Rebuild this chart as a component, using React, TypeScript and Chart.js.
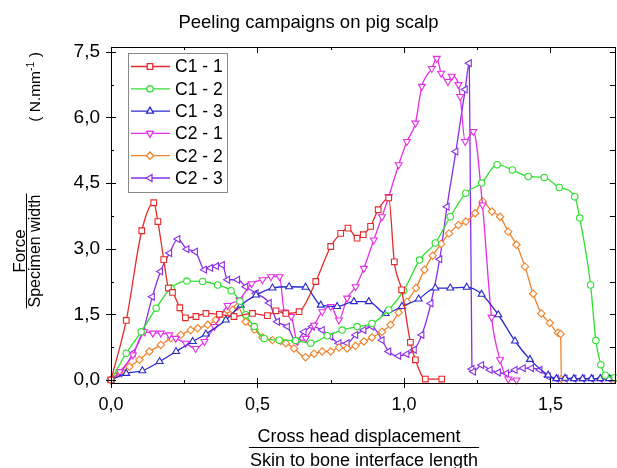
import React, { useEffect, useRef } from 'react';
import { Chart, registerables } from 'chart.js';

Chart.register(...registerables);

// ---------- text ----------
const TITLE = 'Peeling campaigns on pig scalp';
const X_TITLE_TOP = 'Cross head displacement';
const X_TITLE_BOTTOM = 'Skin to bone interface length';
const Y_TITLE_TOP = 'Force';
const Y_TITLE_BOTTOM = 'Specimen width';
const Y_UNIT_MAIN = '( N.mm';
const Y_UNIT_SUP = '-1';
const Y_UNIT_END = ' )';

// ---------- ticks ----------
const X_TICKS = [0, 0.5, 1.0, 1.5];
const X_MINOR = [0.25, 0.75, 1.25];
const Y_TICKS = [0, 1.5, 3.0, 4.5, 6.0, 7.5];
const Y_MINOR = [0.75, 2.25, 3.75, 5.25, 6.75];

// ---------- series ----------
const LABELS = ['C1 - 1', 'C1 - 2', 'C1 - 3', 'C2 - 1', 'C2 - 2', 'C2 - 3'];

const C1_1_X = [0, 0.052, 0.105, 0.146, 0.16, 0.18, 0.196, 0.21, 0.235, 0.254, 0.29, 0.324, 0.37, 0.42, 0.483, 0.534, 0.563, 0.597, 0.642, 0.699, 0.75, 0.784, 0.809, 0.84, 0.861, 0.886, 0.912, 0.948, 0.967, 0.992, 1.022, 1.039, 1.073, 1.129];
const C1_1_Y = [0, 1.36, 3.41, 4.05, 3.62, 2.75, 2.1, 2.0, 1.65, 1.42, 1.45, 1.52, 1.5, 1.45, 1.52, 1.47, 1.58, 1.52, 1.56, 2.25, 3.05, 3.35, 3.47, 3.24, 3.32, 3.51, 3.89, 4.16, 2.7, 2.06, 0.86, 0.46, 0.02, 0.02];

const C1_2_X = [0, 0.052, 0.103, 0.154, 0.205, 0.259, 0.313, 0.364, 0.41, 0.44, 0.46, 0.489, 0.523, 0.574, 0.63, 0.682, 0.738, 0.789, 0.84, 0.891, 0.948, 0.999, 1.053, 1.107, 1.158, 1.211, 1.265, 1.318, 1.37, 1.424, 1.479, 1.53, 1.583, 1.6, 1.637, 1.655, 1.672, 1.687, 1.72];
const C1_2_Y = [0, 0.61, 1.1, 1.64, 2.1, 2.26, 2.25, 2.17, 2.04, 1.8, 1.49, 1.22, 0.95, 0.91, 0.9, 0.84, 1.01, 1.14, 1.22, 1.29, 1.6, 2.04, 2.74, 3.13, 3.73, 4.27, 4.5, 4.92, 4.8, 4.65, 4.63, 4.4, 4.19, 3.7, 2.17, 0.9, 0.35, 0.11, 0.05];

const C1_3_X = [0, 0.052, 0.107, 0.166, 0.222, 0.279, 0.324, 0.392, 0.443, 0.495, 0.551, 0.608, 0.664, 0.716, 0.772, 0.829, 0.88, 0.937, 0.993, 1.05, 1.107, 1.158, 1.214, 1.265, 1.322, 1.379, 1.43, 1.492, 1.52, 1.55, 1.58, 1.61, 1.64, 1.67, 1.7];
const C1_3_Y = [0, 0.15, 0.21, 0.42, 0.65, 0.88, 1.05, 1.37, 1.71, 1.94, 2.1, 2.13, 2.12, 1.71, 1.68, 1.79, 1.79, 1.52, 1.68, 1.85, 2.1, 2.1, 2.12, 1.96, 1.49, 0.89, 0.47, 0.11, 0.03, 0.04, 0.03, 0.03, 0.03, 0.03, 0.03];

const C2_1_X = [0, 0.03, 0.075, 0.113, 0.143, 0.17, 0.199, 0.221, 0.255, 0.289, 0.319, 0.353, 0.398, 0.438, 0.48, 0.517, 0.546, 0.575, 0.592, 0.615, 0.636, 0.665, 0.693, 0.721, 0.75, 0.778, 0.806, 0.835, 0.863, 0.897, 0.925, 0.948, 0.982, 1.01, 1.039, 1.061, 1.095, 1.112, 1.127, 1.15, 1.163, 1.186, 1.192, 1.209, 1.237, 1.268, 1.299, 1.328, 1.356, 1.384];
const C2_1_Y = [0, 0.19, 0.57, 1.1, 1.07, 1.07, 1.03, 0.95, 0.84, 0.72, 0.88, 1.22, 1.7, 1.83, 2.2, 2.29, 2.36, 2.36, 1.55, 1.45, 0.88, 0.95, 1.25, 1.56, 1.68, 1.37, 1.87, 2.13, 2.55, 3.2, 3.73, 4.19, 4.92, 5.45, 5.87, 6.71, 7.12, 7.35, 7.01, 6.82, 6.94, 6.75, 6.48, 5.45, 5.68, 4.0, 1.43, 0.46, 0.02, 0.0];

const C2_2_X = [0, 0.03, 0.063, 0.097, 0.131, 0.17, 0.204, 0.238, 0.272, 0.296, 0.33, 0.358, 0.387, 0.415, 0.432, 0.46, 0.49, 0.517, 0.551, 0.58, 0.597, 0.625, 0.664, 0.693, 0.721, 0.75, 0.778, 0.806, 0.835, 0.863, 0.891, 0.925, 0.954, 0.982, 1.01, 1.041, 1.07, 1.098, 1.127, 1.154, 1.186, 1.211, 1.243, 1.269, 1.3, 1.328, 1.356, 1.384, 1.413, 1.441, 1.469, 1.498, 1.526, 1.535, 1.537, 1.72];
const C2_2_Y = [0, 0.15, 0.3, 0.46, 0.65, 0.8, 0.95, 1.03, 1.14, 1.18, 1.26, 1.37, 1.49, 1.6, 1.68, 1.33, 1.15, 0.97, 0.91, 0.89, 0.84, 0.72, 0.52, 0.6, 0.65, 0.65, 0.74, 0.72, 0.78, 0.88, 0.97, 1.1, 1.26, 1.54, 1.79, 2.1, 2.52, 2.84, 3.11, 3.35, 3.54, 3.62, 3.81, 4.08, 3.85, 3.73, 3.39, 3.09, 2.59, 1.97, 1.52, 1.3, 1.08, 1.05, 0.02, 0.02];

const C2_3_X = [0, 0.03, 0.075, 0.109, 0.141, 0.169, 0.2, 0.228, 0.259, 0.288, 0.319, 0.34, 0.36, 0.38, 0.398, 0.432, 0.46, 0.495, 0.54, 0.568, 0.602, 0.631, 0.659, 0.687, 0.721, 0.75, 0.778, 0.806, 0.835, 0.863, 0.891, 0.925, 0.948, 0.982, 1.01, 1.035, 1.061, 1.092, 1.122, 1.147, 1.177, 1.209, 1.223, 1.232, 1.237, 1.265, 1.294, 1.322, 1.35, 1.379, 1.407, 1.435, 1.464, 1.492, 1.52, 1.55, 1.58, 1.61, 1.64, 1.67, 1.7];
const C2_3_Y = [0, 0.15, 0.61, 1.1, 1.9, 2.48, 2.9, 3.22, 2.99, 2.93, 2.52, 2.56, 2.6, 2.63, 2.29, 2.29, 2.13, 1.98, 1.76, 1.33, 1.22, 0.88, 1.1, 1.22, 1.14, 0.99, 0.84, 0.84, 1.03, 1.14, 1.22, 0.91, 0.65, 0.55, 0.59, 0.69, 1.03, 1.75, 2.76, 3.96, 5.22, 6.64, 7.24, 0.25, 0.19, 0.34, 0.23, 0.17, 0.15, 0.23, 0.27, 0.27, 0.23, 0.08, 0.03, 0.03, 0.03, 0.03, 0.03, 0.03, 0.03];

const SERIES_X = [C1_1_X, C1_2_X, C1_3_X, C2_1_X, C2_2_X, C2_3_X];
const SERIES_Y = [C1_1_Y, C1_2_Y, C1_3_Y, C2_1_Y, C2_2_Y, C2_3_Y];

// ---------- styles ----------
const COLORS = ['#e42a2a', '#2ee02e', '#2a2ad0', '#e62ee6', '#f0822a', '#8a2ee6'];
const POINT_STYLES = ['rect', 'circle', 'triangle', 'triangle', 'rectRot', 'triangle'];
const POINT_ROT = [0, 0, 0, 180, 0, -90];
const POINT_R = [4, 3.2, 4, 4, 3.7, 4];

const FONT = '"Liberation Sans", Arial, Helvetica, sans-serif';
const fmt = (v: number) => v.toFixed(1).replace('.', ',');

function drawMarker(ctx: CanvasRenderingContext2D, style: string, rot: number, x: number, y: number, r: number) {
  ctx.beginPath();
  if (style === 'rect') {
    const s = r * Math.SQRT1_2;
    ctx.rect(x - s, y - s, 2 * s, 2 * s);
  } else if (style === 'circle') {
    ctx.arc(x, y, r, 0, Math.PI * 2);
  } else if (style === 'rectRot') {
    ctx.moveTo(x, y - r);
    ctx.lineTo(x + r, y);
    ctx.lineTo(x, y + r);
    ctx.lineTo(x - r, y);
    ctx.closePath();
  } else {
    let rad = (rot * Math.PI) / 180;
    ctx.moveTo(x + Math.sin(rad) * r, y - Math.cos(rad) * r);
    rad += (2 * Math.PI) / 3;
    ctx.lineTo(x + Math.sin(rad) * r, y - Math.cos(rad) * r);
    rad += (2 * Math.PI) / 3;
    ctx.lineTo(x + Math.sin(rad) * r, y - Math.cos(rad) * r);
    ctx.closePath();
  }
  ctx.fill();
  ctx.stroke();
}

const decorPlugin = {
  id: 'decor',
  afterDraw(chart: any) {
    const ctx: CanvasRenderingContext2D = chart.ctx;
    const a = chart.chartArea;
    const xs = chart.scales.x;
    const ys = chart.scales.y;
    ctx.save();
    ctx.strokeStyle = '#000';
    ctx.lineWidth = 1;
    // frame
    ctx.strokeRect(Math.round(a.left) + 0.5, Math.round(a.top) + 0.5, Math.round(a.right - a.left), Math.round(a.bottom - a.top));
    // ticks
    ctx.beginPath();
    const hx = (v: number, len: number[]) => {
      const px = Math.round(xs.getPixelForValue(v)) + 0.5;
      ctx.moveTo(px, a.bottom - len[0]);
      ctx.lineTo(px, a.bottom + len[1]);
      ctx.moveTo(px, a.top);
      ctx.lineTo(px, a.top + len[2]);
    };
    const hy = (v: number, len: number[]) => {
      const py = Math.round(ys.getPixelForValue(v)) + 0.5;
      ctx.moveTo(a.left - len[1], py);
      ctx.lineTo(a.left + len[0], py);
      ctx.moveTo(a.right, py);
      ctx.lineTo(a.right - len[2], py);
    };
    X_TICKS.forEach((v) => hx(v, [5, 5, 6]));
    X_MINOR.forEach((v) => hx(v, [3, 0, 3]));
    Y_TICKS.forEach((v) => hy(v, [5, 5, 5]));
    Y_MINOR.forEach((v) => hy(v, [3, 0, 5]));
    ctx.stroke();

    // legend
    const lx = 128.5, ly = 53.5, lw = 99, lh = 139;
    ctx.fillStyle = '#fff';
    ctx.fillRect(lx, ly, lw, lh);
    ctx.strokeStyle = '#888';
    ctx.strokeRect(lx, ly, lw, lh);
    chart.data.datasets.forEach((ds: any, i: number) => {
      const cy = 66.5 + i * 22.3;
      ctx.strokeStyle = COLORS[i];
      ctx.lineWidth = 1.3;
      ctx.beginPath();
      ctx.moveTo(131, cy);
      ctx.lineTo(170, cy);
      ctx.stroke();
      ctx.fillStyle = '#fff';
      drawMarker(ctx, POINT_STYLES[i], POINT_ROT[i], 150, cy, POINT_R[i]);
      ctx.fillStyle = '#000';
      ctx.font = `17.5px ${FONT}`;
      ctx.textAlign = 'left';
      ctx.textBaseline = 'middle';
      ctx.fillText(ds.label, 175, cy + 1);
    });

    // title
    ctx.fillStyle = '#000';
    ctx.textBaseline = 'alphabetic';
    ctx.textAlign = 'center';
    ctx.font = `18.5px ${FONT}`;
    ctx.fillText(TITLE, 308.5, 28);

    // x title (fraction)
    ctx.font = `18px ${FONT}`;
    ctx.fillText(X_TITLE_TOP, 359, 441.5);
    ctx.fillText(X_TITLE_BOTTOM, 364, 466);
    const wB = ctx.measureText(X_TITLE_BOTTOM).width;
    ctx.strokeStyle = '#000';
    ctx.lineWidth = 1;
    ctx.beginPath();
    ctx.moveTo(364 - wB / 2 - 1, 447.5);
    ctx.lineTo(364 + wB / 2 + 1, 447.5);
    ctx.stroke();

    // y title (fraction, rotated)
    const yc = 251;
    ctx.save();
    ctx.translate(25, yc);
    ctx.rotate(-Math.PI / 2);
    ctx.font = `17px ${FONT}`;
    ctx.fillText(Y_TITLE_TOP, 0, 0);
    ctx.restore();
    ctx.font = `16px ${FONT}`;
    const wS = ctx.measureText(Y_TITLE_BOTTOM).width;
    ctx.save();
    ctx.translate(39.5, yc);
    ctx.rotate(-Math.PI / 2);
    ctx.fillText(Y_TITLE_BOTTOM, 0, 0);
    ctx.restore();
    ctx.beginPath();
    ctx.moveTo(26.5, yc - wS / 2 - 1);
    ctx.lineTo(26.5, yc + wS / 2 + 1);
    ctx.stroke();

    // unit
    ctx.save();
    ctx.translate(39.5, 87);
    ctx.rotate(-Math.PI / 2);
    ctx.textAlign = 'left';
    ctx.font = `15.5px ${FONT}`;
    const w1 = ctx.measureText(Y_UNIT_MAIN).width;
    const w3 = ctx.measureText(Y_UNIT_END).width;
    ctx.font = `10.5px ${FONT}`;
    const w2 = ctx.measureText(Y_UNIT_SUP).width;
    let u = -(w1 + w2 + w3) / 2;
    ctx.font = `15.5px ${FONT}`;
    ctx.fillText(Y_UNIT_MAIN, u, 0);
    u += w1;
    ctx.font = `10.5px ${FONT}`;
    ctx.fillText(Y_UNIT_SUP, u, -6);
    u += w2;
    ctx.font = `15.5px ${FONT}`;
    ctx.fillText(Y_UNIT_END, u, 0);
    ctx.restore();

    ctx.restore();
  },
};

export default function App() {
  const ref = useRef<HTMLCanvasElement | null>(null);

  useEffect(() => {
    if (!ref.current) return;
    Chart.defaults.font.family = FONT;
    const datasets = LABELS.map((label, i) => ({
      label,
      data: SERIES_X[i].map((x, j) => ({ x, y: SERIES_Y[i][j] })),
      borderColor: COLORS[i],
      backgroundColor: COLORS[i],
      borderWidth: 1.3,
      pointStyle: POINT_STYLES[i],
      rotation: POINT_ROT[i],
      pointRadius: POINT_R[i],
      pointBorderWidth: 1.1,
      pointBorderColor: COLORS[i],
      pointBackgroundColor: '#fff',
      cubicInterpolationMode: 'monotone' as const,
      clip: false as any,
      fill: false,
    }));
    const chart = new Chart(ref.current, {
      type: 'line',
      data: { datasets },
      options: {
        animation: false,
        responsive: false,
        devicePixelRatio: 1,
        events: [],
        layout: { padding: { top: 47, right: 2, left: 0, bottom: 0 } },
        plugins: {
          legend: { display: false },
          title: { display: false },
          tooltip: { enabled: false },
        },
        scales: {
          x: {
            type: 'linear',
            position: 'bottom',
            min: 0,
            max: 1.72,
            grid: { display: false, drawTicks: false },
            border: { display: false },
            ticks: {
              color: '#000',
              font: { size: 18, family: FONT },
              padding: 11,
              maxRotation: 0,
              autoSkip: false,
              callback: (v: any) => fmt(Number(v)),
            },
            afterBuildTicks: (s: any) => {
              s.ticks = X_TICKS.map((v) => ({ value: v }));
            },
            afterFit: (s: any) => {
              s.height = 85;
            },
          },
          y: {
            type: 'linear',
            position: 'left',
            min: -0.07,
            max: 7.61,
            grid: { display: false, drawTicks: false },
            border: { display: false },
            ticks: {
              color: '#000',
              font: { size: 19, family: FONT },
              padding: 11,
              autoSkip: false,
              callback: (v: any) => fmt(Number(v)),
            },
            afterBuildTicks: (s: any) => {
              s.ticks = Y_TICKS.map((v) => ({ value: v }));
            },
            afterFit: (s: any) => {
              s.width = 111;
            },
          },
        },
      },
      plugins: [decorPlugin],
    });
    return () => chart.destroy();
  }, []);

  return (
    <div style={{ position: 'absolute', left: 0, top: 0, width: 617, height: 468, overflow: 'hidden', background: '#fff' }}>
      <canvas ref={ref} width={620} height={468} style={{ display: 'block' }} />
    </div>
  );
}
